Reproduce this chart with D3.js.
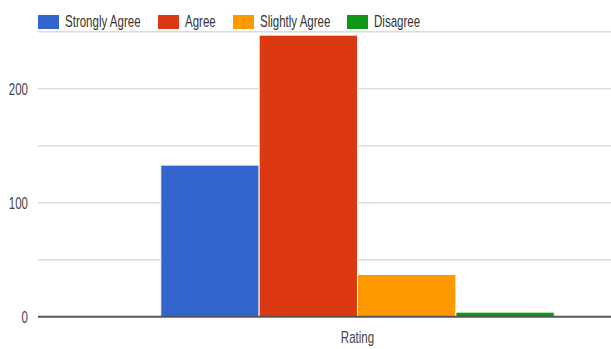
<!DOCTYPE html>
<html>
<head>
<meta charset="utf-8">
<script src="https://cdn.jsdelivr.net/npm/d3@7"></script>
<style>
  html, body { margin: 0; padding: 0; background: #fff; }
  svg { display: block; font-family: "Liberation Sans", Arial, sans-serif; }
</style>
</head>
<body>
<svg id="chart" width="611" height="349"></svg>
<script>
// Survey responses for the single "Rating" question
const categories = ["Rating"];
const series = ["Strongly Agree", "Agree", "Slightly Agree", "Disagree"];
const values = [133, 247, 37, 4];
const colors = ["#3366cc", "#dc3912", "#ff9900", "#109618"];
const yTicks = [0, 100, 200];
const yGrid = [0, 50, 100, 150, 200, 250];

const W = 611, H = 349;
const svg = d3.select("#chart");

// plot area extends past the right edge of the canvas
const plot = { left: 38, right: 677, top: 31.7, bottom: 316.7 };

const y = d3.scaleLinear().domain([0, 250]).range([plot.bottom, plot.top]);
const x0 = d3.scaleBand().domain(categories)
  .range([plot.left, plot.right]).paddingInner(0).paddingOuter(0.312);
const x1 = d3.scaleBand().domain(series).range([0, x0.bandwidth()]);

const condensed = 0.72;

// gridlines
svg.append("g").selectAll("line").data(yGrid.filter(d => d !== 0)).join("line")
  .attr("x1", plot.left).attr("x2", W)
  .attr("y1", d => y(d)).attr("y2", d => y(d))
  .attr("stroke", "#dcdcdc").attr("stroke-width", 1.5);

// y axis labels
const yAxis = d3.axisLeft(y).tickValues(yTicks).tickSize(0).tickPadding(0).tickFormat(d3.format("d"));
const ya = svg.append("g").attr("transform", `translate(${plot.left - 10},0)`).call(yAxis);
ya.select(".domain").remove();
ya.selectAll("text")
  .attr("font-size", 16).attr("fill", "#444").attr("font-family", "Liberation Sans, Arial, sans-serif")
  .attr("dy", "0.35em")
  .attr("transform", `scale(${condensed},1)`)
  .attr("x", 0);

// bars
const group = svg.append("g").selectAll("g").data(categories).join("g")
  .attr("transform", d => `translate(${x0(d)},0)`);
group.selectAll("rect")
  .data(() => series.map((s, i) => ({ s, v: values[i], c: colors[i] })))
  .join("rect")
  .attr("x", d => x1(d.s))
  .attr("width", x1.bandwidth())
  .attr("y", d => y(d.v))
  .attr("height", d => y(0) - y(d.v))
  .attr("fill", d => d.c)
  .attr("stroke", "#fff").attr("stroke-width", 1);

// baseline
svg.append("line")
  .attr("x1", plot.left).attr("x2", W)
  .attr("y1", y(0)).attr("y2", y(0))
  .attr("stroke", "#555").attr("stroke-width", 2);

// x axis category label
const xa = svg.append("g").attr("transform", `translate(0,${y(0)})`)
  .call(d3.axisBottom(x0).tickSize(0).tickPadding(0));
xa.select(".domain").remove();
xa.selectAll(".tick").attr("transform", d => `translate(${x0(d) + x0.bandwidth() / 2},0)`);
xa.selectAll(".tick text")
  .attr("font-size", 16).attr("fill", "#444").attr("font-family", "Liberation Sans, Arial, sans-serif")
  .attr("y", 26).attr("dy", 0)
  .attr("transform", `scale(${condensed},1)`);

// legend
const legendX = [38, 158, 233, 347];
const legend = svg.append("g").selectAll("g").data(series).join("g")
  .attr("transform", (d, i) => `translate(${legendX[i]},15)`);
legend.append("rect")
  .attr("width", 21).attr("height", 14)
  .attr("fill", (d, i) => colors[i]);
legend.append("text")
  .attr("transform", `translate(27,12) scale(${condensed},1)`)
  .attr("font-size", 16).attr("fill", "#333")
  .text(d => d);
</script>
</body>
</html>
